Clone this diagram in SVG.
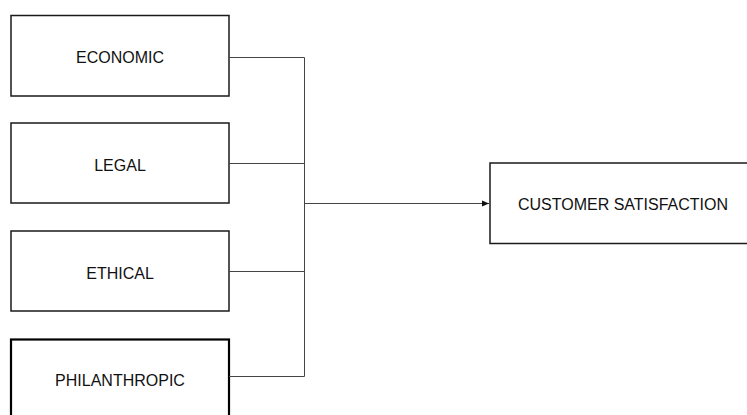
<svg xmlns="http://www.w3.org/2000/svg" width="747" height="415" viewBox="0 0 747 415">
<style>
.box{fill:#fff;stroke:#1a1a1a;stroke-width:1.5}
.thick{stroke-width:2.2;stroke:#000}
.lbl{font-family:"Liberation Sans",Arial,sans-serif;font-size:16px;fill:#111;text-anchor:middle}
.con{fill:none;stroke:#444;stroke-width:1}
</style>
<defs>
<marker id="arr" markerWidth="8" markerHeight="8" refX="7" refY="4" orient="auto" markerUnits="userSpaceOnUse">
<path d="M0,1 L7,4 L0,7 Z" fill="#111"/>
</marker>
</defs>
<g id="economic"><rect class="box" x="11" y="15.5" width="218" height="80.5"/><text class="lbl" x="120" y="63">ECONOMIC</text></g>
<g id="legal"><rect class="box" x="11" y="123" width="218" height="80"/><text class="lbl" x="120" y="171">LEGAL</text></g>
<g id="ethical"><rect class="box" x="11" y="231" width="218" height="80"/><text class="lbl" x="120" y="279">ETHICAL</text></g>
<g id="philanthropic"><rect class="box thick" x="11" y="339.5" width="218" height="84"/><text class="lbl" x="120" y="386">PHILANTHROPIC</text></g>
<g id="customer"><rect class="box" x="490" y="163" width="270" height="80.5"/><text class="lbl" x="623" y="210">CUSTOMER SATISFACTION</text></g>
<g id="connectors">
<path class="con" d="M229,57.5 H304.5 V376.5 H229 M229,163.5 H304.5 M229,271.5 H304.5"/>
<path class="con" d="M304.5,203.5 H489" marker-end="url(#arr)"/>
</g>
</svg>
